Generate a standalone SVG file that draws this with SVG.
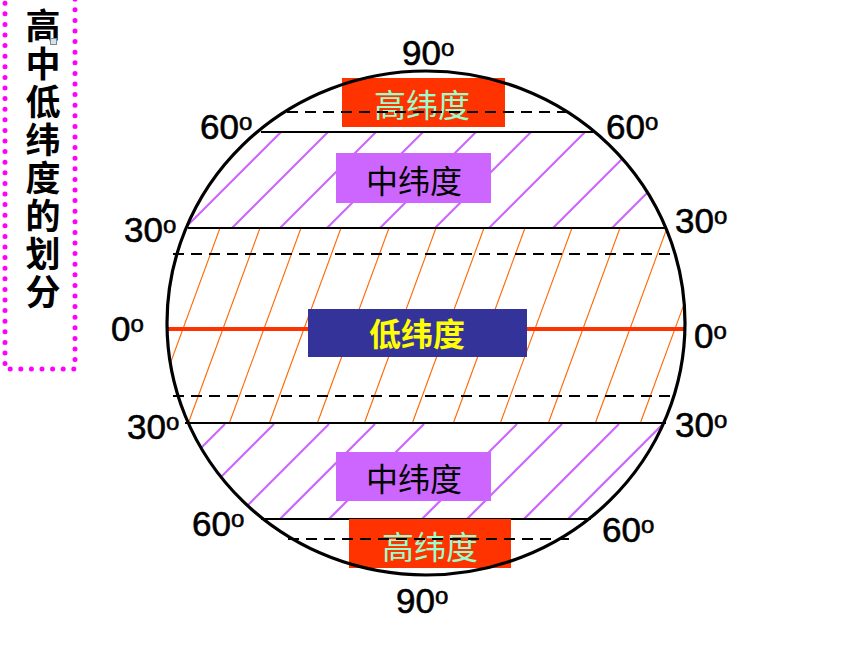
<svg xmlns="http://www.w3.org/2000/svg" width="860" height="645" viewBox="0 0 860 645">
<defs>
<style>
.deg{font-family:"Liberation Sans",Arial,sans-serif;font-size:35px;fill:#000;stroke:#000;stroke-width:0.6}
.sup{font-size:24px}
.cjk{font-family:"Noto Sans CJK SC","Noto Sans",sans-serif;font-size:32px;text-anchor:middle;dominant-baseline:central}
.title{font-family:"Noto Sans CJK SC","Noto Sans",sans-serif;font-size:35px;font-weight:bold;fill:#000;writing-mode:vertical-rl;letter-spacing:3.1px}
.solid{stroke:#000;stroke-width:2.2;fill:none}
.dash{stroke:#000;stroke-width:2.2;stroke-dasharray:11 7;fill:none}
.ph{stroke:#CC66FF;stroke-width:2.2}
.oh{stroke:#FF6600;stroke-width:1.1}
</style>
<clipPath id="globe"><ellipse cx="426" cy="323" rx="258" ry="251"/></clipPath>
</defs>
<rect width="860" height="645" fill="#fff"/>

<g id="title">
<rect x="5" y="-5" width="70" height="374" fill="none" stroke="#FF00FF" stroke-width="5" stroke-linecap="round" stroke-dasharray="0 10.6"/>
<text class="title" x="43" y="8">高中低纬度的划分</text>
<rect x="50.5" y="38.5" width="6" height="6" fill="#D0E4EC" stroke="#7A8A90" stroke-width="1"/>
</g>

<g id="hatching" clip-path="url(#globe)">
<g class="ph">
<line x1="185" y1="228" x2="281" y2="132"/>
<line x1="232" y1="228" x2="328" y2="132"/>
<line x1="280" y1="228" x2="376" y2="132"/>
<line x1="327" y1="228" x2="423" y2="132"/>
<line x1="380" y1="228" x2="476" y2="132"/>
<line x1="435" y1="228" x2="531" y2="132"/>
<line x1="489" y1="228" x2="585" y2="132"/>
<line x1="553" y1="228" x2="649" y2="132"/>
<line x1="612" y1="228" x2="708" y2="132"/>
<line x1="225" y1="424" x2="130" y2="519"/>
<line x1="274" y1="424" x2="179" y2="519"/>
<line x1="329" y1="424" x2="234" y2="519"/>
<line x1="375" y1="424" x2="280" y2="519"/>
<line x1="424" y1="424" x2="329" y2="519"/>
<line x1="517" y1="424" x2="422" y2="519"/>
<line x1="562" y1="424" x2="467" y2="519"/>
<line x1="619" y1="424" x2="524" y2="519"/>
<line x1="663" y1="424" x2="568" y2="519"/>
</g>
<g class="oh">
<line x1="220" y1="228" x2="148" y2="424"/>
<line x1="260" y1="228" x2="188" y2="424"/>
<line x1="301" y1="228" x2="229" y2="424"/>
<line x1="341" y1="228" x2="269" y2="424"/>
<line x1="389" y1="228" x2="317" y2="424"/>
<line x1="436" y1="228" x2="364" y2="424"/>
<line x1="484" y1="228" x2="412" y2="424"/>
<line x1="525" y1="228" x2="453" y2="424"/>
<line x1="572" y1="228" x2="500" y2="424"/>
<line x1="620" y1="228" x2="548" y2="424"/>
<line x1="667" y1="228" x2="595" y2="424"/>
<line x1="712" y1="228" x2="640" y2="424"/>
</g>
</g>

<g id="latitudes">
<line x1="167" y1="329" x2="685" y2="329" stroke="#FF3300" stroke-width="4"/>
<line class="solid" x1="261" y1="132" x2="593" y2="132"/>
<line class="solid" x1="188" y1="228" x2="666" y2="228"/>
<line class="solid" x1="185" y1="423" x2="666" y2="423"/>
<line class="solid" x1="261" y1="519" x2="591" y2="519"/>
</g>

<g id="high-north">
<rect x="342" y="78" width="163" height="49" fill="#FF3300"/>
<text class="cjk" x="422" y="103" fill="#99FFCC">高纬度</text>
</g>
<g id="mid-north">
<rect x="336" y="153" width="155" height="50" fill="#CC66FF"/>
<text class="cjk" x="414" y="179" fill="#000">中纬度</text>
</g>
<g id="low">
<rect x="308" y="309" width="219" height="48" fill="#333399"/>
<text class="cjk" x="417" y="332" fill="#FFFF00" font-weight="bold">低纬度</text>
</g>
<g id="mid-south">
<rect x="336" y="452" width="155" height="49" fill="#CC66FF"/>
<text class="cjk" x="414" y="477" fill="#000">中纬度</text>
</g>
<g id="high-south">
<rect x="349" y="519" width="162" height="49" fill="#FF3300"/>
<text class="cjk" x="430" y="545" fill="#99FFCC">高纬度</text>
</g>

<g id="connectors">
<line class="dash" x1="287" y1="112" x2="573" y2="112"/>
<line class="dash" x1="173" y1="254" x2="677" y2="254"/>
<line class="dash" x1="173" y1="396" x2="674" y2="396"/>
<line class="dash" x1="288" y1="539" x2="572" y2="539"/>
<ellipse cx="426" cy="323" rx="259" ry="252" fill="none" stroke="#000" stroke-width="3.2"/>
</g>

<g id="labels">
<text class="deg" x="402" y="65">90<tspan class="sup" dy="-9">o</tspan></text>
<text class="deg" x="200" y="139">60<tspan class="sup" dy="-9">o</tspan></text>
<text class="deg" x="606" y="139">60<tspan class="sup" dy="-9">o</tspan></text>
<text class="deg" x="124" y="242">30<tspan class="sup" dy="-9">o</tspan></text>
<text class="deg" x="675" y="233">30<tspan class="sup" dy="-9">o</tspan></text>
<text class="deg" x="111" y="341">0<tspan class="sup" dy="-9">o</tspan></text>
<text class="deg" x="694" y="348">0<tspan class="sup" dy="-9">o</tspan></text>
<text class="deg" x="127" y="439">30<tspan class="sup" dy="-9">o</tspan></text>
<text class="deg" x="675" y="437">30<tspan class="sup" dy="-9">o</tspan></text>
<text class="deg" x="192" y="536">60<tspan class="sup" dy="-9">o</tspan></text>
<text class="deg" x="602" y="542">60<tspan class="sup" dy="-9">o</tspan></text>
<text class="deg" x="396" y="613">90<tspan class="sup" dy="-9">o</tspan></text>
</g>
</svg>
